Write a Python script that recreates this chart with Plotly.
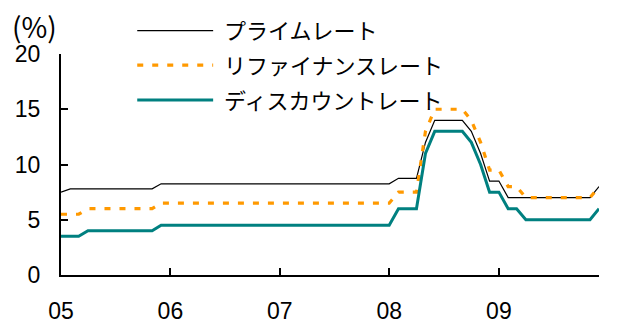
import pandas as pd
import plotly.graph_objects as go

# Monthly policy rates, Jan 2005 - Dec 2009 (%)
months = pd.date_range("2005-01-01", "2009-12-01", freq="MS")

prime_rate = [
    7.5, 7.8, 7.8, 7.8, 7.8, 7.8, 7.8, 7.8, 7.8, 7.8, 7.8, 8.25,
    8.25, 8.25, 8.25, 8.25, 8.25, 8.25, 8.25, 8.25, 8.25, 8.25, 8.25, 8.25,
    8.25, 8.25, 8.25, 8.25, 8.25, 8.25, 8.25, 8.25, 8.25, 8.25, 8.25, 8.25,
    8.25, 8.75, 8.75, 8.75, 12, 14, 14, 14, 14, 13, 11, 8.5,
    8.5, 7, 7, 7, 7, 7, 7, 7, 7, 7, 7, 8,
]
refinance_rate = [
    5.5, 5.5, 5.5, 6, 6, 6, 6, 6, 6, 6, 6, 6.5,
    6.5, 6.5, 6.5, 6.5, 6.5, 6.5, 6.5, 6.5, 6.5, 6.5, 6.5, 6.5,
    6.5, 6.5, 6.5, 6.5, 6.5, 6.5, 6.5, 6.5, 6.5, 6.5, 6.5, 6.5,
    6.5, 7.5, 7.5, 7.5, 13, 15, 15, 15, 15, 14, 12, 9.5,
    9.5, 8, 8, 7, 7, 7, 7, 7, 7, 7, 7, 8,
]
discount_rate = [
    3.5, 3.5, 3.5, 4, 4, 4, 4, 4, 4, 4, 4, 4.5,
    4.5, 4.5, 4.5, 4.5, 4.5, 4.5, 4.5, 4.5, 4.5, 4.5, 4.5, 4.5,
    4.5, 4.5, 4.5, 4.5, 4.5, 4.5, 4.5, 4.5, 4.5, 4.5, 4.5, 4.5,
    4.5, 6, 6, 6, 11, 13, 13, 13, 13, 12, 10, 7.5,
    7.5, 6, 6, 5, 5, 5, 5, 5, 5, 5, 5, 6,
]

series_names = ["プライムレート", "リファイナンスレート", "ディスカウントレート"]
year_ticks = ["2005-01-01", "2006-01-01", "2007-01-01", "2008-01-01", "2009-01-01"]
year_labels = ["05", "06", "07", "08", "09"]
y_ticks = [0, 5, 10, 15, 20]

line_styles = [
    dict(color="#000000", width=1.2),
    dict(color="#FF9900", width=3.2, dash="6px,9px"),
    dict(color="#008080", width=3),
]

fig = go.Figure()
for name, values, style in zip(series_names, [prime_rate, refinance_rate, discount_rate], line_styles):
    fig.add_trace(go.Scatter(x=months, y=values, mode="lines", name=name,
                             line=style, showlegend=False))

# Hand-drawn legend: long sample lines with labels, stacked at the top
legend_rows = [1.106, 0.950, 0.792]
for name, style, ypos in zip(series_names, line_styles, legend_rows):
    fig.add_shape(type="line", xref="paper", yref="paper",
                  x0=0.1417, x1=0.2828, y0=ypos, y1=ypos, line=style)
    fig.add_annotation(text=name, xref="paper", yref="paper", x=0.2998, y=ypos + 0.005,
                       xanchor="left", yanchor="middle", showarrow=False,
                       font=dict(family="Noto Sans CJK JP", size=22, color="#000000"))

fig.add_annotation(text="(%)", xref="paper", yref="paper", x=-0.094, y=1.128,
                   xanchor="left", yanchor="middle", showarrow=False,
                   font=dict(family="Noto Sans CJK JP", size=28, color="#000000"))

axis_font = dict(family="Liberation Sans, Arial, sans-serif", size=23, color="#000000")

fig.update_xaxes(
    range=["2005-01-01", "2009-12-01"],
    tickmode="array", tickvals=year_ticks, ticktext=year_labels,
    ticks="inside", ticklen=7, tickwidth=2, tickcolor="#000000",
    showline=True, linecolor="#000000", linewidth=2,
    showgrid=False, zeroline=False, tickfont=axis_font,
    ticklabelstandoff=14, automargin=False,
)
fig.update_yaxes(
    range=[0, 20], tickmode="array", tickvals=y_ticks,
    ticks="inside", ticklen=7, tickwidth=2, tickcolor="#000000",
    showline=True, linecolor="#000000", linewidth=2,
    showgrid=False, zeroline=False, tickfont=axis_font,
    ticklabelstandoff=14, automargin=False,
)

fig.update_layout(
    width=623, height=321,
    margin=dict(l=61, r=24, t=54, b=46, autoexpand=False),
    plot_bgcolor="#FFFFFF", paper_bgcolor="#FFFFFF",
    showlegend=False,
)

fig.write_html("out.html")
